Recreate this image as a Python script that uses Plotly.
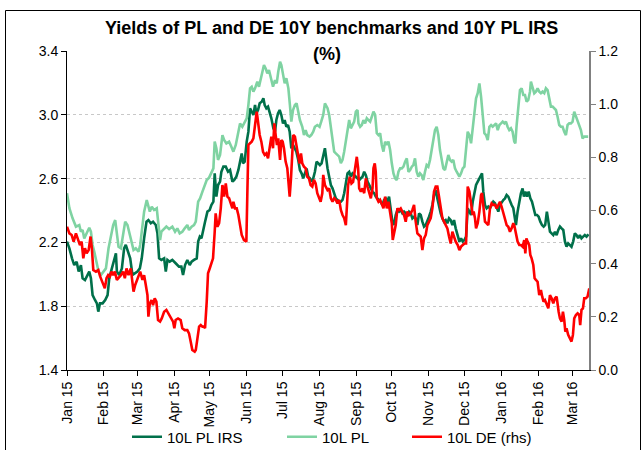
import pandas as pd
import plotly.graph_objects as go

START = pd.Timestamp("2015-01-01")

# ---- 10L PL IRS (left axis) : day offset from 1 Jan 2015, value ----
irs_days = [0, 2.0, 4.2, 6.1, 8.1, 9.8, 11.7, 13.1, 15.1, 17.3, 18.7, 20.1, 21.5, 23.5, 25.1, 26.3, 27.7, 29.9, 32.1, 34.1,
            35.5, 37.7, 39.7, 41.1, 41.9, 43.9, 46.1, 48.0, 49.4, 51.4, 53.1, 55.0, 57.3, 59.2, 61.2, 62.8, 64.8, 66.8, 68.4,
            70.4, 72.3, 74.6, 76.0, 77.4, 79.3, 81.6, 83.0, 84.4, 86.3, 88.5, 91.3, 94.1, 96.1, 97.5, 99.2, 101.1, 103.1,
            104.7, 106.7,
            109.0, 110.2, 111.6, 113.0, 114.4, 116.0, 118.0, 119.9, 121.3, 123.0, 124.1, 125.5, 126.9, 128.6, 129.7, 131.4,
            133.4, 135.3, 137.0, 139.0, 140.4, 142.3, 144.0, 145.4, 146.8, 147.9, 149.3, 151.0, 152.4, 153.8, 155.2, 156.6,
            158.0, 159.1, 160.5, 161.9, 163.6, 165.0, 166.1, 167.5, 168.9, 170.3, 171.7, 173.4, 174.8, 175.9, 177.3, 178.7,
            180.1, 181.5, 182.9, 184.3, 185.7, 187.1, 188.5, 189.9, 191.3, 192.7, 194.3, 195.7, 197.1, 198.5, 199.9, 201.3,
            202.7, 204.1, 205.5, 206.9, 208.3, 209.7, 211.1, 212.5, 213.9, 215.3, 216.7,
            218.9, 220.3, 221.7, 223.1, 224.5, 225.9, 227.3, 228.7, 230.1, 231.5, 232.9, 234.3, 235.7, 237.1, 238.5, 239.9,
            241.3, 242.7, 244.1, 245.5, 246.9, 248.3, 249.7, 251.1, 252.5, 253.9, 255.3, 256.7, 258.1, 259.4, 260.8, 262.2,
            263.6, 265.0, 266.4, 267.8, 269.2, 270.6, 272.0, 273.4, 274.8, 276.2, 277.6, 279.0, 280.4, 281.8, 283.2, 284.6,
            286.0, 287.4, 288.8, 290.2, 291.6, 293.0, 294.4, 295.8, 297.2, 298.6, 300.0, 301.4, 302.8, 304.2, 305.6, 307.0,
            308.4, 309.8, 311.2, 312.6, 314.0, 315.4, 316.8, 318.2, 319.6, 321.0, 322.4, 323.8, 325.2, 326.6,
            328.3, 329.7, 331.1, 332.5, 333.9, 335.3, 336.7, 338.1, 339.5, 340.9, 342.3, 343.7, 345.1, 346.5, 347.9, 348.7,
            349.8, 351.2, 352.6, 354.0, 355.4, 356.8, 358.2, 359.6, 361.0, 362.4, 363.8, 365.2, 366.6, 368.0, 369.4, 370.8,
            372.2, 373.6, 375.0, 376.4, 377.2, 378.6, 380.0, 381.4, 382.8, 383.9, 385.1, 386.5, 387.9, 389.3, 390.7, 392.1,
            393.5, 394.9, 396.3, 397.7, 399.1, 400.5, 401.8, 403.2, 404.4, 405.8, 407.2, 408.6, 410.0, 411.4, 412.8, 414.2,
            415.6, 417.0, 418.4, 419.7, 421.1, 422.5, 423.9, 425.3, 426.7, 428.1, 429.5, 430.9, 432.3, 433.7, 435.1, 436.5,
            438.2]
irs_vals = [2.205, 2.163, 2.100, 2.058, 2.079, 2.017, 2.058, 1.975, 1.964, 1.996, 2.017, 1.975, 1.870, 1.839, 1.818, 1.766,
            1.818, 1.818, 1.839, 1.870, 1.975, 2.037, 2.100, 2.131, 2.017, 1.996, 2.037, 2.163, 2.184, 2.142, 2.100, 1.996,
            2.006, 2.017, 2.037, 2.100, 2.226, 2.330, 2.340, 2.320, 2.330, 2.309, 2.257, 2.100, 2.090, 2.100, 2.017, 2.090,
            2.079, 2.090, 2.069, 2.048, 2.048, 1.996, 2.058, 2.090, 2.058, 2.079, 2.090,
            2.100, 2.205, 2.236, 2.226, 2.267, 2.330, 2.393, 2.403, 2.434, 2.455, 2.633, 2.487, 2.560, 2.581, 2.643, 2.675,
            2.675, 2.643, 2.654, 2.581, 2.591, 2.612, 2.654, 2.717, 2.758, 2.696, 2.706, 2.832, 2.894, 3.041, 3.020, 2.999,
            3.061, 3.009, 3.030, 3.072, 3.082, 3.103, 3.061, 3.041, 3.051, 3.020, 2.978, 2.915, 2.894, 2.967, 3.009, 3.030,
            2.999, 2.946, 2.967, 2.925, 2.936, 2.894, 2.790, 2.811, 2.790, 2.769, 2.717, 2.654, 2.633, 2.602, 2.633, 2.664,
            2.612, 2.602, 2.581, 2.602, 2.643, 2.706, 2.696, 2.685, 2.696, 2.738, 2.790,
            2.664, 2.602, 2.560, 2.539, 2.508, 2.476, 2.466, 2.455, 2.455, 2.466, 2.508, 2.560, 2.633, 2.643, 2.612, 2.633,
            2.622, 2.612, 2.602, 2.591, 2.602, 2.612, 2.643, 2.622, 2.581, 2.560, 2.529, 2.518, 2.508, 2.487, 2.476, 2.466,
            2.455, 2.434, 2.466, 2.476, 2.455, 2.487, 2.414, 2.330, 2.309, 2.372, 2.403, 2.393, 2.403, 2.382, 2.393, 2.382,
            2.372, 2.393, 2.382, 2.351, 2.361, 2.351, 2.309, 2.382, 2.372, 2.330, 2.299, 2.309, 2.330, 2.361, 2.393, 2.434,
            2.497, 2.529, 2.476, 2.424, 2.382, 2.351, 2.330, 2.340, 2.320, 2.351, 2.340, 2.309, 2.340, 2.288,
            2.236, 2.205, 2.226, 2.205, 2.215, 2.236, 2.414, 2.393, 2.372, 2.455, 2.518, 2.560, 2.581, 2.602, 2.622, 2.633,
            2.518, 2.434, 2.414, 2.424, 2.414, 2.434, 2.455, 2.445, 2.414, 2.393, 2.434, 2.455, 2.466, 2.476, 2.497, 2.487,
            2.455, 2.434, 2.414, 2.340, 2.309, 2.393, 2.455, 2.508, 2.539, 2.487, 2.518, 2.487, 2.518, 2.476, 2.455, 2.414,
            2.372, 2.372, 2.361, 2.330, 2.309, 2.299, 2.309, 2.393, 2.330, 2.267, 2.257, 2.246, 2.267, 2.246, 2.278, 2.299,
            2.288, 2.278, 2.205, 2.173, 2.194, 2.184, 2.173, 2.205, 2.257, 2.246, 2.226, 2.246, 2.226, 2.236, 2.246, 2.236,
            2.251]

# ---- 10L PL (left axis) ----
pl_days = [0, 2.0, 4.7, 7.5, 10.3, 11.7, 13.1, 14.5, 16.5, 18.7, 20.1, 21.5, 22.9, 24.9, 26.5, 28.5, 30.4, 32.7, 34.9, 36.9,
           38.8, 40.5, 41.9, 43.3, 45.3, 47.2, 48.9, 50.8, 52.2, 54.2, 55.9, 57.8, 60.1, 61.5, 62.8, 64.8, 67.0, 68.4, 69.6,
           71.2, 73.2, 75.4, 76.8, 78.2, 79.3, 81.6, 83.5, 85.8, 88.5, 90.8, 92.7, 94.7, 96.9, 98.9, 101.1, 102.5, 104.7,
           106.7,
           108.2, 110.2, 111.8, 113.8, 115.7, 117.4, 119.4, 121.3, 123.0, 124.1, 125.5, 126.9, 128.6, 130.6, 132.0, 133.9,
           136.2, 138.1, 139.8, 141.8, 143.7, 145.4, 147.3, 149.3, 151.0, 152.4, 153.8, 155.2, 156.6, 158.0, 159.9, 161.3,
           162.7, 164.1, 165.5, 166.9, 168.3, 169.7, 171.1, 173.1, 174.8, 176.2, 177.5, 179.0, 180.1, 181.5, 182.9, 184.3,
           186.0, 187.3, 188.5, 189.9, 191.5, 192.9, 194.3, 195.7, 197.7, 199.1, 200.5, 201.9, 203.8, 205.2, 206.9, 208.3,
           210.3, 212.2, 213.6, 215.3, 216.7,
           218.9, 220.3, 221.7, 223.1, 224.5, 225.9, 227.3, 228.7, 230.1, 231.5, 232.9, 234.3, 235.7, 237.1, 238.5, 239.9,
           241.3, 242.7, 244.1, 244.9, 246.3, 247.7, 249.1, 250.5, 251.9, 253.3, 254.7, 256.1, 257.5, 258.9, 260.3, 261.7,
           263.1, 264.5, 265.9, 267.3, 268.7, 270.1, 271.5, 272.9, 274.3, 275.7, 277.1, 278.5, 279.9, 281.3, 282.7, 284.1,
           285.5, 286.9, 288.3, 289.7, 291.0, 292.4, 293.8, 295.2, 296.6, 298.0, 299.4, 300.8, 302.2, 303.6, 305.0, 306.4,
           307.8, 309.2, 310.6, 312.0, 313.4, 314.8, 316.2, 317.6, 319.0, 320.4, 321.8, 323.2, 324.6, 326.0, 327.4,
           329.7, 331.1, 332.5, 333.9, 335.3, 336.7, 338.1, 339.5, 340.9, 342.3, 343.7, 345.1, 346.5, 347.9, 349.3, 350.7,
           352.1, 353.5, 354.9, 356.3, 357.7, 359.1, 360.5, 361.9, 363.3, 364.7, 366.1, 367.5, 368.8, 370.2, 371.6, 373.0,
           374.4, 375.8, 376.7, 377.8, 379.2, 380.6, 382.0, 383.4, 384.8, 386.2, 387.6, 389.0, 389.8, 391.2, 392.6, 394.0,
           395.4, 396.8, 398.2, 399.6, 401.0, 402.4, 403.8, 405.2, 406.6, 408.0, 409.4, 410.8, 412.2, 413.6, 415.0, 416.4,
           417.8, 419.2, 420.6, 422.0, 423.4, 424.8, 426.2, 427.6, 429.0, 430.4, 431.8, 433.2, 434.6, 436.0, 437.9]
pl_vals = [2.508, 2.414, 2.351, 2.299, 2.309, 2.267, 2.278, 2.225, 2.257, 2.292, 2.267, 2.184, 2.142, 2.079, 2.017, 1.996,
           2.017, 2.037, 2.163, 2.246, 2.309, 2.340, 2.267, 2.173, 2.163, 2.267, 2.330, 2.309, 2.267, 2.205, 2.152, 2.163,
           2.142, 2.184, 2.267, 2.393, 2.466, 2.434, 2.393, 2.424, 2.403, 2.414, 2.309, 2.215, 2.267, 2.288, 2.299, 2.284,
           2.299, 2.267, 2.288, 2.257, 2.267, 2.288, 2.309, 2.278, 2.299, 2.309,
           2.330, 2.455, 2.476, 2.518, 2.560, 2.591, 2.606, 2.633, 2.664, 2.832, 2.790, 2.717, 2.748, 2.873, 2.842, 2.821,
           2.832, 2.800, 2.769, 2.811, 2.894, 2.946, 2.925, 2.957, 2.978, 3.061, 3.166, 3.176, 3.145, 3.166, 3.208, 3.176,
           3.229, 3.270, 3.312, 3.291, 3.260, 3.281, 3.229, 3.176, 3.218, 3.197, 3.270, 3.333, 3.312, 3.250, 3.197, 3.229,
           3.166, 3.061, 2.957, 3.030, 3.061, 3.072, 3.020, 2.967, 2.925, 2.873, 2.904, 2.873, 2.863, 2.873, 2.894, 2.925,
           2.936, 2.925, 2.957, 2.999, 3.072,
           3.041, 2.999, 2.925, 2.832, 2.769, 2.758, 2.748, 2.738, 2.696, 2.717, 2.769, 2.832, 2.894, 2.967, 2.915, 2.936,
           2.957, 3.020, 3.030, 2.946, 2.925, 2.936, 2.967, 2.946, 2.978, 2.967, 2.957, 2.988, 3.020, 2.999, 2.884, 2.873,
           2.884, 2.811, 2.769, 2.832, 2.811, 2.832, 2.779, 2.696, 2.633, 2.602, 2.591, 2.643, 2.664, 2.664, 2.675, 2.706,
           2.727, 2.643, 2.654, 2.675, 2.685, 2.727, 2.643, 2.612, 2.633, 2.622, 2.591, 2.643, 2.685, 2.675, 2.717, 2.779,
           2.852, 2.904, 2.925, 2.873, 2.779, 2.706, 2.664, 2.654, 2.706, 2.748, 2.717, 2.706, 2.717, 2.664, 2.643,
           2.612, 2.633, 2.664, 2.675, 2.769, 2.894, 2.873, 2.821, 2.915, 3.020, 3.103, 3.135, 3.197, 3.114, 3.009, 2.884,
           2.873, 2.842, 2.925, 2.936, 2.925, 2.936, 2.946, 2.904, 2.936, 2.946, 2.957, 2.946, 2.957, 2.925, 2.904, 2.915,
           2.894, 2.832, 2.821, 2.936, 3.051, 3.155, 3.166, 3.124, 3.124, 3.082, 3.093, 3.145, 3.208, 3.166, 3.135, 3.145,
           3.166, 3.145, 3.135, 3.145, 3.135, 3.166, 3.155, 3.103, 3.051, 3.051, 3.041, 3.030, 2.988, 2.936, 2.925, 2.925,
           2.894, 2.873, 2.936, 2.946, 2.946, 2.957, 3.020, 2.988, 2.957, 2.936, 2.904, 2.852, 2.863, 2.863, 2.863]

# ---- 10L DE (right axis) ----
de_days = [0, 2.0, 3.9, 5.6, 7.5, 8.9, 10.9, 12.3, 13.7, 15.1, 16.5, 18.2, 19.8, 20.9, 22.1, 24.3, 26.3, 27.9, 29.9, 31.8,
           33.2, 34.6, 36.0, 37.4, 38.8, 40.2, 41.9, 43.3, 45.3, 47.2, 48.6, 50.0, 51.7, 53.6, 55.0, 55.9, 57.3, 59.2, 60.6,
           61.5, 63.4, 64.8, 66.2, 67.6, 68.4, 69.6, 71.0, 72.3, 73.7, 75.1, 76.5, 78.2, 79.6, 81.6, 83.5, 85.2, 87.2, 89.1,
           90.2, 91.3, 93.3, 95.5, 96.9, 98.9, 101.1, 102.5, 103.9, 105.3, 107.3,
           108.2, 109.6, 111.0, 112.4, 113.8, 115.2, 116.0, 117.4, 118.5, 119.9, 121.3, 122.7, 124.1, 124.9, 126.4, 127.8,
           129.2, 130.6, 132.0, 133.4, 134.8, 136.2, 137.6, 139.0, 139.8, 141.2, 142.6, 144.0, 145.4, 146.8, 148.7, 150.7,
           151.5, 152.4, 153.8, 155.2, 156.6, 158.0, 159.4, 160.5, 161.9, 163.3, 164.7, 166.1, 167.5, 168.9, 170.3, 171.7,
           173.1, 174.2, 175.3, 176.4, 177.5, 179.0, 180.1, 181.2, 182.3, 183.7, 185.1, 186.2, 187.1, 188.2, 189.3, 190.1,
           191.5, 192.9, 194.3, 195.4, 196.6, 197.7, 199.1, 200.5, 201.9, 203.3, 204.7, 206.1, 207.5, 208.9, 210.3, 211.7,
           213.1, 214.5, 215.3, 216.7,
           218.9, 220.3, 221.7, 223.1, 224.5, 225.9, 227.3, 228.7, 230.1, 231.5, 232.9, 234.3, 235.1, 236.2, 237.6, 239.0,
           240.4, 241.5, 242.7, 243.5, 244.6, 245.5, 246.9, 248.3, 249.7, 251.1, 252.5, 253.9, 255.3, 256.7, 257.5, 258.6,
           259.4, 260.3, 261.7, 263.1, 264.5, 265.9, 267.3, 268.7, 270.1, 271.5, 272.9, 273.7, 274.8, 276.2, 277.6, 279.0,
           280.4, 281.8, 283.2, 284.6, 286.0, 287.4, 288.8, 290.2, 291.6, 293.0, 294.4, 295.8, 297.2, 298.6, 300.0, 301.4,
           302.8, 304.2, 305.6, 307.0, 308.4, 309.8, 311.2, 312.6, 314.0, 315.4, 316.8, 318.2, 319.6, 321.0, 322.4, 323.8,
           325.2, 326.6,
           328.3, 329.7, 331.1, 332.5, 333.9, 335.3, 336.7, 338.1, 339.5, 340.9, 341.7, 342.8, 343.7, 345.1, 346.5, 347.9,
           348.7, 349.8, 351.2, 352.6, 354.0, 355.4, 356.8, 358.2, 359.6, 361.0, 362.4, 363.8, 365.2, 366.6, 368.0, 369.4,
           370.8, 372.2, 373.6, 375.0, 375.8, 377.2, 378.6, 380.0, 381.4, 382.8, 384.2, 385.1, 386.0, 387.0, 388.4, 389.3,
           390.4, 391.8, 392.9, 394.0, 395.4, 396.8, 398.2, 399.3, 400.4, 401.6, 403.0, 404.4, 405.8, 407.2, 408.6, 410.0,
           411.4, 412.2, 413.1, 414.2, 415.6, 416.7, 417.8, 418.7, 419.7, 421.1, 422.5, 423.9, 425.1, 426.2, 427.6, 429.0,
           430.4, 431.2, 432.3, 433.5, 434.6, 436.0, 437.4, 438.8]
de_vals = [0.539, 0.514, 0.508, 0.483, 0.514, 0.495, 0.470, 0.483, 0.420, 0.458, 0.439, 0.451, 0.502, 0.458, 0.376, 0.370,
           0.376, 0.351, 0.326, 0.307, 0.345, 0.357, 0.351, 0.370, 0.357, 0.370, 0.339, 0.345, 0.357, 0.370, 0.345, 0.382,
           0.357, 0.382, 0.339, 0.295, 0.320, 0.345, 0.357, 0.370, 0.339, 0.357, 0.320, 0.282, 0.201, 0.251, 0.263, 0.244,
           0.270, 0.257, 0.188, 0.182, 0.194, 0.219, 0.226, 0.213, 0.201, 0.182, 0.157, 0.188, 0.194, 0.188, 0.157, 0.150,
           0.150, 0.138, 0.107, 0.075, 0.069,
           0.075, 0.119, 0.163, 0.169, 0.163, 0.163, 0.157, 0.257, 0.364, 0.382, 0.401, 0.420, 0.520, 0.589, 0.539, 0.552,
           0.608, 0.696, 0.652, 0.702, 0.652, 0.646, 0.627, 0.608, 0.633, 0.608, 0.608, 0.583, 0.545, 0.508, 0.489, 0.483,
           0.658, 0.846, 0.853, 0.859, 0.871, 0.922, 0.972, 0.934, 0.884, 0.859, 0.821, 0.809, 0.815, 0.796, 0.834, 0.878,
           0.834, 0.928, 0.884, 0.846, 0.871, 0.790, 0.865, 0.859, 0.834, 0.784, 0.759, 0.696, 0.652, 0.721, 0.809, 0.884,
           0.878, 0.846, 0.809, 0.777, 0.815, 0.777, 0.765, 0.759, 0.727, 0.721, 0.696, 0.690, 0.715, 0.702, 0.665, 0.646,
           0.633, 0.665, 0.734, 0.696,
           0.677, 0.683, 0.646, 0.633, 0.646, 0.640, 0.627, 0.640, 0.602, 0.583, 0.571, 0.545, 0.621, 0.696, 0.727, 0.702,
           0.708, 0.746, 0.790, 0.802, 0.759, 0.683, 0.671, 0.683, 0.665, 0.721, 0.690, 0.665, 0.646, 0.683, 0.759, 0.777,
           0.746, 0.646, 0.633, 0.640, 0.621, 0.608, 0.652, 0.608, 0.633, 0.583, 0.552, 0.489, 0.520, 0.545, 0.608, 0.602,
           0.608, 0.596, 0.583, 0.558, 0.596, 0.583, 0.589, 0.602, 0.621, 0.558, 0.514, 0.508, 0.502, 0.451, 0.495, 0.508,
           0.545, 0.558, 0.571, 0.608, 0.671, 0.690, 0.690, 0.652, 0.608, 0.571, 0.558, 0.545, 0.533, 0.502, 0.476, 0.520,
           0.502, 0.483,
           0.470, 0.451, 0.464, 0.470, 0.476, 0.476, 0.690, 0.671, 0.627, 0.583, 0.596, 0.571, 0.533, 0.552, 0.596, 0.658,
           0.665, 0.608, 0.558, 0.552, 0.545, 0.608, 0.627, 0.621, 0.621, 0.608, 0.621, 0.633, 0.614, 0.589, 0.564, 0.545,
           0.539, 0.520, 0.533, 0.552, 0.545, 0.508, 0.483, 0.470, 0.470, 0.464, 0.489, 0.439, 0.495, 0.483, 0.470, 0.433,
           0.420, 0.395, 0.345, 0.339, 0.332, 0.282, 0.301, 0.276, 0.257, 0.263, 0.244, 0.232, 0.282, 0.270, 0.251, 0.270,
           0.276, 0.244, 0.219, 0.194, 0.182, 0.219, 0.188, 0.144, 0.157, 0.132, 0.119, 0.107, 0.132, 0.194, 0.207, 0.213,
           0.207, 0.169, 0.226, 0.232, 0.270, 0.270, 0.276, 0.307]

TITLE_1 = "Yields of PL and DE 10Y benchmarks and 10Y PL IRS"
TITLE_2 = "(%)"
NAMES = ["10L PL IRS", "10L PL", "10L DE (rhs)"]
COLORS = ["#00704A", "#7FD3A2", "#FF0000"]


def to_dates(days):
    return START + pd.to_timedelta(days, unit="D")


W, H = 643, 450
ML, MR, MT, MB = 67, 54, 51, 80
PW, PH = W - ML - MR, H - MT - MB


def px(x):
    return (x - ML) / PW


def py(y):
    return (H - MB - y) / PH


FONT = "Liberation Sans, Arial, sans-serif"

fig = go.Figure()
fig.add_trace(go.Scatter(x=to_dates(irs_days), y=irs_vals, name=NAMES[0], mode="lines", legend="legend",
                         line=dict(color=COLORS[0], width=2.6)))
fig.add_trace(go.Scatter(x=to_dates(pl_days), y=pl_vals, name=NAMES[1], mode="lines", legend="legend2",
                         line=dict(color=COLORS[1], width=2.6)))
fig.add_trace(go.Scatter(x=to_dates(de_days), y=de_vals, name=NAMES[2], mode="lines", yaxis="y2", legend="legend3",
                         line=dict(color=COLORS[2], width=2.6)))

leg_common = dict(orientation="h", yanchor="middle", y=py(437), xanchor="left",
                  font=dict(size=15, family=FONT), bgcolor="rgba(0,0,0,0)", borderwidth=0)

fig.update_layout(
    width=W, height=H,
    margin=dict(l=ML, r=MR, t=MT, b=MB, autoexpand=False),
    paper_bgcolor="white", plot_bgcolor="white",
    font=dict(family=FONT, size=14, color="black"),
    showlegend=True,
    legend=dict(x=px(127), **leg_common),
    legend2=dict(x=px(282), **leg_common),
    legend3=dict(x=px(407), **leg_common),
    xaxis=dict(type="date", range=[START, START + pd.Timedelta(days=438.6)],
               dtick="M1", tick0="2015-01-01", tickformat="%b %y", tickangle=-90,
               ticks="outside", ticklen=5, tickcolor="black", showline=True, linecolor="black",
               linewidth=1, showgrid=False, zeroline=False, tickfont=dict(size=14), automargin=False),
    yaxis=dict(range=[1.4, 3.4], dtick=0.4, tick0=1.4, tickformat=".1f",
               ticks="outside", ticklen=5, tickcolor="black", showline=True, linecolor="black",
               linewidth=1, showgrid=True, gridcolor="#C8C8C8", griddash="dot", gridwidth=1,
               zeroline=False, tickfont=dict(size=14), automargin=False),
    yaxis2=dict(range=[0, 1.2], dtick=0.2, tick0=0, tickformat=".1f", overlaying="y", side="right",
                ticks="outside", ticklen=5, tickcolor="#808080", showline=True, linecolor="#808080",
                linewidth=1.5, showgrid=False, zeroline=False, tickfont=dict(size=14), automargin=False),
    annotations=[
        dict(text="<b>" + TITLE_1 + "</b>", xref="paper", yref="paper", x=px(331), y=py(28),
             xanchor="center", yanchor="middle", showarrow=False, font=dict(size=18, family=FONT)),
        dict(text="<b>" + TITLE_2 + "</b>", xref="paper", yref="paper", x=px(327), y=py(54),
             xanchor="center", yanchor="middle", showarrow=False, font=dict(size=18, family=FONT)),
    ],
    shapes=[
        dict(type="rect", xref="paper", yref="paper", x0=px(5.5), x1=px(640.5), y0=py(458), y1=py(10.5),
             line=dict(color="black", width=1), fillcolor="rgba(0,0,0,0)", layer="below"),
    ],
)

# remove the default page margin so the 643x450 figure sits at the window origin
fig.write_html("out.html", config={"displayModeBar": False},
               post_script="document.body.style.margin='0';")
